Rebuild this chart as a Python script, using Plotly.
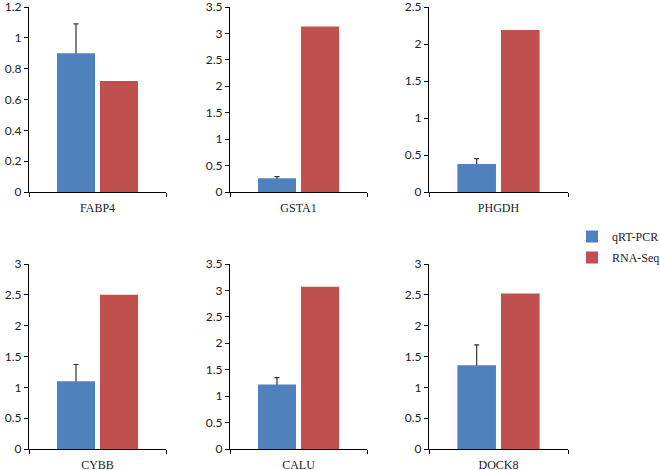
import plotly.graph_objects as go

genes = ["FABP4", "GSTA1", "PHGDH", "CYBB", "CALU", "DOCK8"]
qrt_pcr = [0.90, 0.26, 0.38, 1.10, 1.22, 1.36]
qrt_err = [0.19, 0.03, 0.07, 0.27, 0.13, 0.33]
rna_seq = [0.72, 3.13, 2.19, 2.50, 3.07, 2.52]
y_max = [1.2, 3.5, 2.5, 3.0, 3.5, 3.0]
y_step = [0.2, 0.5, 0.5, 0.5, 0.5, 0.5]
series_names = ["qRT-PCR", "RNA-Seq"]

BLUE = "#4F81BD"
RED = "#C0504D"
W, H = 660, 470

x_px = [(29, 166), (230, 367), (429, 568)]
y_px = [(7, 192), (264, 449)]

fig = go.Figure()
layout = {}
tick_font = dict(family="Lato, Liberation Sans, sans-serif", size=12, color="#222222")
label_font = dict(family="Liberation Serif, Times New Roman, serif", size=12, color="#222222")

for i, g in enumerate(genes):
    r, c = divmod(i, 3)
    n = "" if i == 0 else str(i + 1)
    xa, ya = "x" + n, "y" + n
    # transparent carrier of the upper-only error bar, drawn beneath the blue bar
    fig.add_trace(go.Bar(
        x=[0], y=[qrt_pcr[i]], marker_color="rgba(0,0,0,0)", marker_line_width=0,
        xaxis=xa, yaxis=ya, showlegend=False, offsetgroup="q", hoverinfo="skip",
        error_y=dict(type="data", symmetric=False, array=[qrt_err[i]],
                     arrayminus=[y_max[i] * 0.02],
                     color="#333333", thickness=1.2, width=2.5),
    ))
    fig.add_trace(go.Bar(
        x=[0], y=[qrt_pcr[i]], name=series_names[0], marker_color=BLUE,
        marker_line_width=0, xaxis=xa, yaxis=ya, legendgroup="q", showlegend=(i == 0),
        offsetgroup="q",
    ))
    fig.add_trace(go.Bar(
        x=[0], y=[rna_seq[i]], name=series_names[1], marker_color=RED,
        marker_line_width=0, xaxis=xa, yaxis=ya, legendgroup="r", showlegend=(i == 0),
        offsetgroup="r",
    ))
    x0, x1 = x_px[c]
    y0, y1 = y_px[r]
    nticks = int(round(y_max[i] / y_step[i]))
    tvals = [round(k * y_step[i], 6) for k in range(nticks + 1)]
    layout["xaxis" + n] = dict(
        domain=[x0 / W, x1 / W], range=[-0.5, 0.5], anchor=ya, automargin=False,
        showline=True, linecolor="black", linewidth=1.2, showgrid=False, zeroline=False,
        tickvals=[0], ticktext=[g], ticks="", tickfont=label_font, ticklabelstandoff=4,
        ticklabeloverflow="allow",
        minor=dict(tickvals=[-0.5, 0.5], ticks="outside", ticklen=4, tickcolor="black", tickwidth=1.2),
        fixedrange=True,
    )
    layout["yaxis" + n] = dict(
        domain=[1 - y1 / H, 1 - y0 / H], range=[0, y_max[i]], anchor=xa, automargin=False,
        tickmode="array", tickvals=tvals, ticktext=[f"{v:g}" for v in tvals],
        showline=True, linecolor="black", linewidth=1.2,
        showgrid=False, zeroline=False, ticks="outside", ticklen=4, tickcolor="black",
        tickwidth=1.2, tickfont=tick_font, ticklabeloverflow="allow", fixedrange=True,
    )

fig.update_layout(
    **layout,
    width=W, height=H,
    margin=dict(l=0, r=0, t=0, b=0, autoexpand=False),
    paper_bgcolor="white", plot_bgcolor="white",
    barmode="group", bargap=0.372, bargroupgap=0.116,
    legend=dict(x=572 / W, y=1 - 222 / H, xanchor="left", yanchor="top",
                font=dict(family="Liberation Serif, Times New Roman, serif", size=12, color="#222222"),
                itemwidth=30, tracegroupgap=2, bgcolor="rgba(0,0,0,0)"),
    showlegend=True,
)

fig.write_html("out.html", config={"displayModeBar": False},
               post_script="document.body.style.margin='0';document.body.style.overflow='hidden';")
